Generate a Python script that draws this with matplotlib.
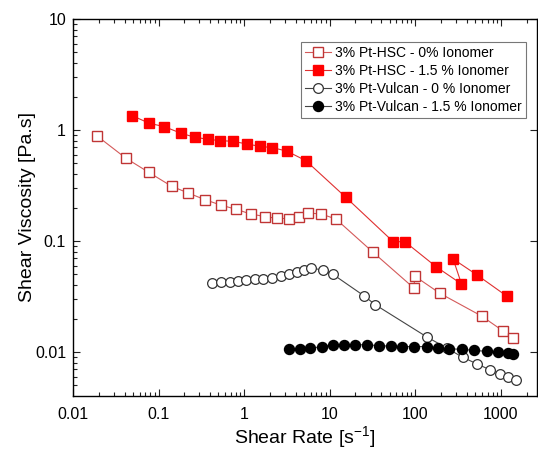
import matplotlib
matplotlib.use("Agg")
import matplotlib.pyplot as plt
from matplotlib.ticker import FuncFormatter, LogLocator, NullFormatter

plt.rcParams["font.family"] = ["Liberation Sans", "DejaVu Sans"]
plt.rcParams["mathtext.fontset"] = "custom"
plt.rcParams["mathtext.rm"] = "Liberation Sans"

# 3% Pt-HSC - 0% Ionomer (open squares)
hsc0_rate = [0.0189, 0.0416, 0.0766, 0.142, 0.219, 0.346, 0.540, 0.809, 1.19, 1.76,
             2.40, 3.34, 4.40, 5.52, 7.96, 11.8, 32.2, 97, 98, 194, 595, 1047, 1393]
hsc0_visc = [0.889, 0.556, 0.416, 0.311, 0.272, 0.236, 0.210, 0.193, 0.175, 0.166,
             0.160, 0.159, 0.164, 0.179, 0.175, 0.158, 0.079, 0.0375, 0.0484, 0.0338,
             0.0211, 0.0156, 0.0133]

# 3% Pt-HSC - 1.5 % Ionomer (filled squares)
hsc15_rate = [0.0486, 0.0778, 0.117, 0.184, 0.266, 0.381, 0.526, 0.740, 1.07, 1.52,
              2.13, 3.13, 5.27, 15.3, 55.2, 75.6, 175, 347, 277, 528, 1166]
hsc15_visc = [1.35, 1.15, 1.07, 0.933, 0.859, 0.824, 0.801, 0.791, 0.748, 0.713,
              0.693, 0.647, 0.529, 0.249, 0.0986, 0.0986, 0.0587, 0.041, 0.0689,
              0.0494, 0.032]

# 3% Pt-Vulcan - 0 % Ionomer (open circles)
vul0_rate = [0.424, 0.536, 0.678, 0.847, 1.06, 1.34, 1.67, 2.11, 2.67, 3.31, 4.10,
             4.95, 6.08, 8.26, 10.9, 25.3, 34.0, 136, 236, 360, 532, 743, 982, 1216,
             1496]
vul0_visc = [0.0416, 0.0430, 0.0425, 0.0439, 0.0445, 0.0452, 0.0457, 0.0467, 0.0484,
             0.0501, 0.0522, 0.0548, 0.0571, 0.0548, 0.0501, 0.0320, 0.0267, 0.0137,
             0.0108, 0.00895, 0.00779, 0.00693, 0.00638, 0.00599, 0.00565]

# 3% Pt-Vulcan - 1.5 % Ionomer (filled circles)
vul15_rate = [3.34, 4.48, 5.96, 8.04, 10.8, 14.7, 19.7, 27.0, 37.6, 51.4, 70.3, 96.3,
              136, 185, 249, 353, 488, 681, 915, 1217, 1393]
vul15_visc = [0.01064, 0.0107, 0.0108, 0.0112, 0.01165, 0.0116, 0.0116, 0.01165,
              0.0114, 0.0113, 0.0112, 0.0112, 0.0112, 0.0109, 0.0107, 0.01057, 0.01035,
              0.01014, 0.0100, 0.0098, 0.0096]

fig = plt.figure(figsize=(5.38, 4.51), dpi=100)
ax = fig.add_axes([0.1357, 0.122, 0.862, 0.836])

ax.plot(hsc0_rate, hsc0_visc, "-", color="#d45a5a", lw=0.8, marker="s", ms=7.2,
        mfc="white", mec="#c03535", mew=1.0, label="3% Pt-HSC - 0% Ionomer")
ax.plot(hsc15_rate, hsc15_visc, "-", color="#e03030", lw=0.8, marker="s", ms=7.2,
        mfc="#ff0000", mec="#ff0000", label="3% Pt-HSC - 1.5 % Ionomer")
ax.plot(vul0_rate, vul0_visc, "-", color="#444444", lw=0.8, marker="o", ms=7.0,
        mfc="white", mec="#333333", mew=0.9, label="3% Pt-Vulcan - 0 % Ionomer")
ax.plot(vul15_rate, vul15_visc, "-", color="#444444", lw=0.8, marker="o", ms=7.2,
        mfc="black", mec="black", label="3% Pt-Vulcan - 1.5 % Ionomer")

ax.set_xscale("log"); ax.set_yscale("log")
ax.set_xlim(0.01, 2630); ax.set_ylim(0.00402, 10)

fmt = FuncFormatter(lambda v, _: f"{v:g}")
ax.xaxis.set_major_formatter(fmt); ax.yaxis.set_major_formatter(fmt)
ax.xaxis.set_minor_formatter(NullFormatter()); ax.yaxis.set_minor_formatter(NullFormatter())
ax.xaxis.set_minor_locator(LogLocator(base=10, subs=range(2, 10)))
ax.yaxis.set_minor_locator(LogLocator(base=10, subs=range(2, 10)))
ax.tick_params(which="both", direction="in", top=True, right=True, labelsize=11.5,
               width=0.8, color="#222222")
ax.tick_params(which="major", length=5)
ax.tick_params(which="minor", length=3)
ax.tick_params(which="minor", right=False)
ax.tick_params(axis="x", which="major", pad=8)
ax.tick_params(axis="y", which="major", pad=5)
for s in ax.spines.values():
    s.set_linewidth(1.0)

ax.set_xlabel("Shear Rate [s$^{\\mathregular{-1}}$]", fontsize=14, labelpad=2)
ax.set_ylabel("Shear Viscosity [Pa.s]", fontsize=14)
ax.yaxis.set_label_coords(-0.08, 0.5)

leg = ax.legend(loc="upper right", bbox_to_anchor=(0.9775, 0.94), fontsize=10,
                frameon=True, fancybox=False, borderpad=0.3, labelspacing=0.3,
                handlelength=1.9, handletextpad=0.3, borderaxespad=0)
leg.get_frame().set_edgecolor("#555555")
leg.get_frame().set_linewidth(0.8)

fig.savefig("out.png", dpi=100)
